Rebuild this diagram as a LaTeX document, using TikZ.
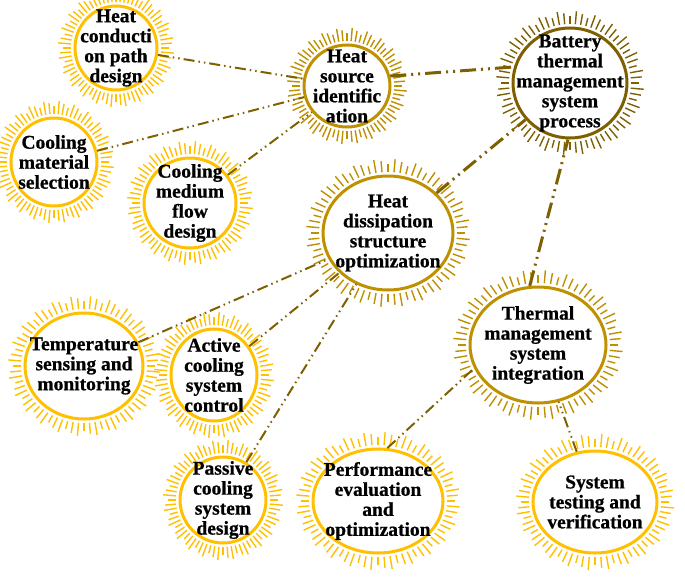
\documentclass[tikz,border=0pt]{standalone}
\usepackage{fontspec}
\setmainfont{Liberation Serif}[BoldFeatures={FakeBold=0.8}]
\usepackage{tikz}
\usetikzlibrary{shapes.geometric}
\definecolor{leafc}{HTML}{FFC000}
\definecolor{midc}{HTML}{BF9000}
\definecolor{rootc}{HTML}{7F6000}

\begin{document}
\begin{tikzpicture}[x=1pt,y=-1pt,
  ring/.style={ellipse, draw=#1, line width=3pt, fill=white, inner sep=0pt},
  txt/.style={align=center, inner sep=0pt,
    font=\bfseries\fontsize{19.5}{20}\selectfont},
  mainlink/.style={draw=rootc, line width=3pt,
    dash pattern=on 16pt off 5pt on 2pt off 5pt on 2pt off 5pt},
  sublink/.style={draw=rootc, line width=2pt,
    dash pattern=on 11pt off 4pt on 1.5pt off 4pt on 1.5pt off 4pt}]
  \useasboundingbox (0,0) rectangle (685,581);

  % rings
  \node[ring=rootc, minimum width=114pt, minimum height=110pt] (root) at (570,83) {};
  \node[ring=midc, minimum width=86pt, minimum height=82pt] (src) at (347,86) {};
  \node[ring=midc, minimum width=130pt, minimum height=114pt] (diss) at (388,233) {};
  \node[ring=midc, minimum width=136pt, minimum height=116pt] (integ) at (538,345) {};
  \node[ring=leafc, minimum width=82pt, minimum height=84pt] (cond) at (116,48) {};
  \node[ring=leafc, minimum width=86pt, minimum height=88pt] (mat) at (54,162) {};
  \node[ring=leafc, minimum width=92pt, minimum height=90pt] (flow) at (190,203) {};
  \node[ring=leafc, minimum width=118pt, minimum height=106pt] (temp) at (84,366) {};
  \node[ring=leafc, minimum width=86pt, minimum height=92pt] (act) at (214,375) {};
  \node[ring=leafc, minimum width=86pt, minimum height=86pt] (pas) at (223,500) {};
  \node[ring=leafc, minimum width=130pt, minimum height=104pt] (perf) at (378,501) {};
  \node[ring=leafc, minimum width=124pt, minimum height=102pt] (test) at (595,502) {};

  % rays
  \foreach \n/\rx/\ry/\c in {root/57/55/rootc, src/43/41/midc, diss/65/57/midc,
      integ/68/58/midc, cond/41/42/leafc, mat/43/44/leafc, flow/46/45/leafc,
      temp/59/53/leafc, act/43/46/leafc, pas/43/43/leafc, perf/65/52/leafc,
      test/62/51/leafc}
    \foreach \a [count=\i] in {0,5,...,355} {
      \pgfmathsetmacro\ra{\rx+4}
      \pgfmathsetmacro\rb{\ry+4}
      \pgfmathsetmacro\l{mod(\i,3)==0 ? 13 : (mod(\i,3)==1 ? 8 : 11)}
      \pgfmathsetmacro\rc{\ra+\l}
      \pgfmathsetmacro\rd{\rb+\l}
      \draw[\c, line width=1.4pt, shift={(\n.center)}]
        (\a:\ra pt and \rb pt) -- (\a:\rc pt and \rd pt);
    }

  % texts
  \node[txt] (root-t) at (root) {Battery\\thermal\\management\\system\\process};
  \node[txt] (src-t) at (src) {Heat\\source\\identific\\ation};
  \node[txt] (diss-t) at (diss) {Heat\\dissipation\\structure\\optimization};
  \node[txt] (integ-t) at (integ) {Thermal\\management\\system\\integration};
  \node[txt] (cond-t) at (cond) {Heat\\conducti\\on path\\design};
  \node[txt] (mat-t) at (mat) {Cooling\\material\\selection};
  \node[txt] (flow-t) at (flow) {Cooling\\medium\\flow\\design};
  \node[txt] (temp-t) at (temp) {Temperature\\sensing and\\monitoring};
  \node[txt] (act-t) at (act) {Active\\cooling\\system\\control};
  \node[txt] (pas-t) at (pas) {Passive\\cooling\\system\\design};
  \node[txt] (perf-t) at (perf) {Performance\\evaluation\\and\\optimization};
  \node[txt] (test-t) at (test) {System\\testing and\\verification};

  % links
  \draw[mainlink] (src.13) -- (root.164);
  \draw[mainlink] (diss) -- (root);
  \draw[mainlink] (integ.98) -- (root.-92);
  \draw[sublink] (cond) -- (src);
  \draw[sublink] (mat) -- (src);
  \draw[sublink] (flow) -- (src);
  \draw[sublink] (temp) -- (diss);
  \draw[sublink] (act) -- (diss);
  \draw[sublink] (pas) -- (diss);
  \draw[sublink] (perf.80) -- (integ.200);
  \draw[sublink] (test) -- (integ);
\end{tikzpicture}
\end{document}
